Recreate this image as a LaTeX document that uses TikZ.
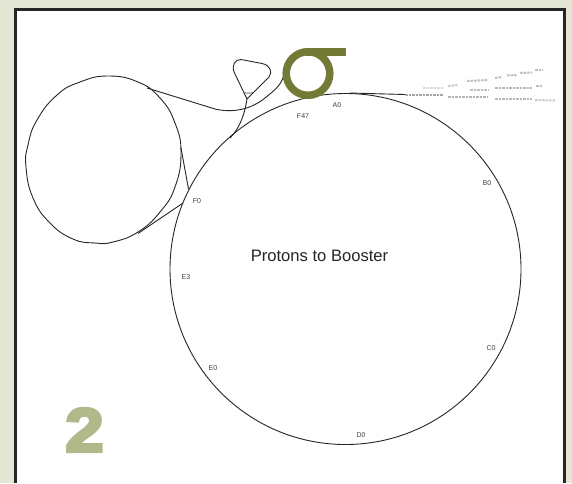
\documentclass[tikz,border=0pt]{standalone}
\usepackage{fontspec}
\setmainfont{Liberation Sans}
\newfontfamily\bignum[FakeBold=5,FakeStretch=1.12]{Liberation Sans Bold}
\definecolor{pagebg}{HTML}{E4E6D6}
\definecolor{sigmagreen}{HTML}{727A35}
\definecolor{numgreen}{HTML}{B3B88A}
\tikzset{
  beam/.style={line width=0.9pt,black!85,line join=round},
  ringlabel/.style={font=\fontsize{7}{8}\selectfont,black!75,inner sep=0pt},
  trailbit/.style={line width=2pt,dash pattern=on 2.5pt off 1pt}
}
\begin{document}
\begin{tikzpicture}[x=1pt,y=-1pt]
  \useasboundingbox (0,0) rectangle (572,483);
  \fill[pagebg] (0,0) rectangle (572,483);
  \fill[white] (15,9) rectangle (565,483);
  \draw[line width=2.6pt,black!85] (15.3,483) -- (15.3,9.3) -- (564.7,9.3) -- (564.7,483);

  % main ring
  \draw[beam] (345.5,269) circle (175.5);

  % left loop
  \draw[beam] plot[smooth cycle,tension=0.8] coordinates {(108,76) (138,82) (160,98) (175,123)
    (181,153) (175,187) (160,212) (138,232) (113,242) (95,243) (73,239) (50,223) (33,198)
    (26,167) (28,145) (37,120) (57,95) (80,82)};
  \draw[beam] (181,148) -- (188.5,189);
  \draw[beam] (138,233.5) -- (183,203);

  % injection line, over the top
  \draw[beam] (147,88) -- (215,109) .. controls (232,113) and (250,110) .. (265,98)
    .. controls (275,90) and (281,85) .. (283.5,76);

  % small triangle loop
  \draw[beam] (247,99) -- (234.5,73) .. controls (231,66) and (235,59) .. (241,59.5)
    -- (262,63.5) .. controls (270,65) and (273,72) .. (269,77) -- (247,99)
    .. controls (244,118) and (238,130) .. (230,138);
  \draw[beam,black!55] (243,92) .. controls (246,93.5) and (250,93.5) .. (253,92.5);

  % sigma
  \draw[sigmagreen,line width=7.5pt] (308,73.5) circle (21.8);
  \fill[sigmagreen] (306,48) rectangle (346,55.5);

  % fading trail
  \draw[beam] (350,93) -- (405,94.5);
  \foreach \xa/\ya/\xb/\yb/\shade in {
    405/94.5/443/94.5/35, 448/96.5/488/96.5/30, 495/98.5/532/98.5/28, 535/100/555/100.5/20,
    470/89.5/488/89.5/25, 495/87.5/532/87.5/28, 536/86/543/86/25,
    423/88/443/88/15, 448/86/458/85/20, 467/81/488/80/25, 495/78/502/77/25,
    507/75.5/517/75/25, 520/73/532/72.5/25, 535/70/543/70/25}{
    \draw[trailbit,black!\shade] (\xa,\ya) -- (\xb,\yb);
  }

  % labels
  \node[ringlabel] (a0) at (337,105) {A0};
  \node[ringlabel] (f47) at (303,116) {F47};
  \node[ringlabel] (b0) at (487,183) {B0};
  \node[ringlabel] (c0) at (491,348) {C0};
  \node[ringlabel] (d0) at (361,435) {D0};
  \node[ringlabel] (e0) at (213,368) {E0};
  \node[ringlabel] (e3) at (186,277) {E3};
  \node[ringlabel] (f0) at (197,201) {F0};
  \node[font=\fontsize{16.6}{18}\selectfont,black!85,inner sep=0pt] (title) at (319.5,256) {Protons to Booster};
  \node[font=\bignum\fontsize{62}{62}\selectfont,numgreen,inner sep=0pt] (num) at (84.5,430) {2};
\end{tikzpicture}
\end{document}
